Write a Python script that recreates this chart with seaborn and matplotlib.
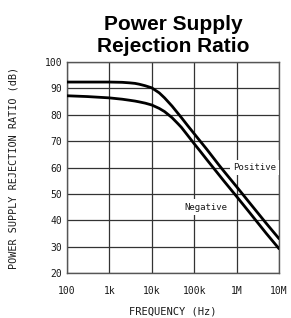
import matplotlib
matplotlib.use("Agg")
import matplotlib.pyplot as plt
import seaborn as sns
import pandas as pd

# ---- data ----
freq_hz = [100, 300, 1e3, 2e3, 3e3, 4e3, 5e3, 7e3, 1e4, 1.5e4, 2e4, 3e4,
           4.2e4, 5e4, 7e4, 1e5, 1.35e5, 2e5, 3.8e5, 5e5, 1e6, 2e6, 5e6, 1e7]
positive_db = [92.4, 92.4, 92.4, 92.3, 92.1, 91.9, 91.6, 91.0, 90.2, 88.3,
               86.4, 83.3, 80.4, 78.9, 75.9, 72.8, 70.2, 66.8, 61.0, 58.6,
               52.7, 46.7, 38.8, 33.0]
negative_db = [87.2, 86.9, 86.4, 85.9, 85.5, 85.2, 84.9, 84.4, 83.7, 82.4,
               81.2, 78.9, 76.5, 75.2, 72.2, 69.0, 66.4, 62.9, 57.3, 54.9,
               49.0, 43.0, 35.0, 29.2]
series_names = ["Positive", "Negative"]
x_ticks = [100, 1e3, 1e4, 1e5, 1e6, 1e7]
x_tick_labels = ["100", "1k", "10k", "100k", "1M", "10M"]
y_ticks = [20, 30, 40, 50, 60, 70, 80, 90, 100]

title = "Power Supply\nRejection Ratio"
x_label = "FREQUENCY (Hz)"
y_label = "POWER SUPPLY REJECTION RATIO (dB)"

df = pd.DataFrame({
    "freq": freq_hz * 2,
    "psrr": positive_db + negative_db,
    "series": [series_names[0]] * len(freq_hz) + [series_names[1]] * len(freq_hz),
})

sns.set_style("white")
mono = "DejaVu Sans Mono"
txt = "#1a1a1a"

fig = plt.figure(figsize=(2.91, 3.18), dpi=100)
ax = fig.add_axes([0.230, 0.1415, 0.729, 0.6635])

sns.lineplot(data=df, x="freq", y="psrr", hue="series",
             palette={"Positive": "black", "Negative": "black"},
             linewidth=2.0, legend=False, ax=ax, zorder=3, sort=True)

ax.set_xscale("log")
ax.set_xlim(100, 1e7)
ax.set_ylim(20, 100)
ax.set_xticks(x_ticks)
ax.set_xticklabels(x_tick_labels)
ax.minorticks_off()
ax.set_yticks(y_ticks)
ax.grid(True, which="major", color="#333333", linewidth=0.9, zorder=1)
for s in ax.spines.values():
    s.set_color("#555555")
    s.set_linewidth(1.0)

ax.tick_params(axis="both", length=0, labelsize=7)
ax.tick_params(axis="x", pad=9)
ax.tick_params(axis="y", pad=3.5)
for lab in ax.get_xticklabels() + ax.get_yticklabels():
    lab.set_fontfamily(mono)
    lab.set_color(txt)

ax.set_xlabel(x_label, fontsize=7.5, family=mono, color=txt)
ax.set_ylabel(y_label, fontsize=7.3, family=mono, color=txt)
ax.xaxis.set_label_coords(0.5, -0.16)
ax.yaxis.set_label_coords(-0.228, 0.5)

ax.set_title(title, fontsize=15, fontweight="bold", family="Liberation Sans",
             pad=7, linespacing=1.2, color="black")

box = dict(boxstyle="square,pad=0.35", facecolor="white", edgecolor="none")
ax.text(8.2e5, 60, "Positive", ha="left", va="center", fontsize=6.5,
        family=mono, color=txt, bbox=box, zorder=4)
ax.text(1.9e5, 45, "Negative", ha="center", va="center", fontsize=6.5,
        family=mono, color=txt, bbox=box, zorder=4)

fig.savefig("out.png", dpi=100)
